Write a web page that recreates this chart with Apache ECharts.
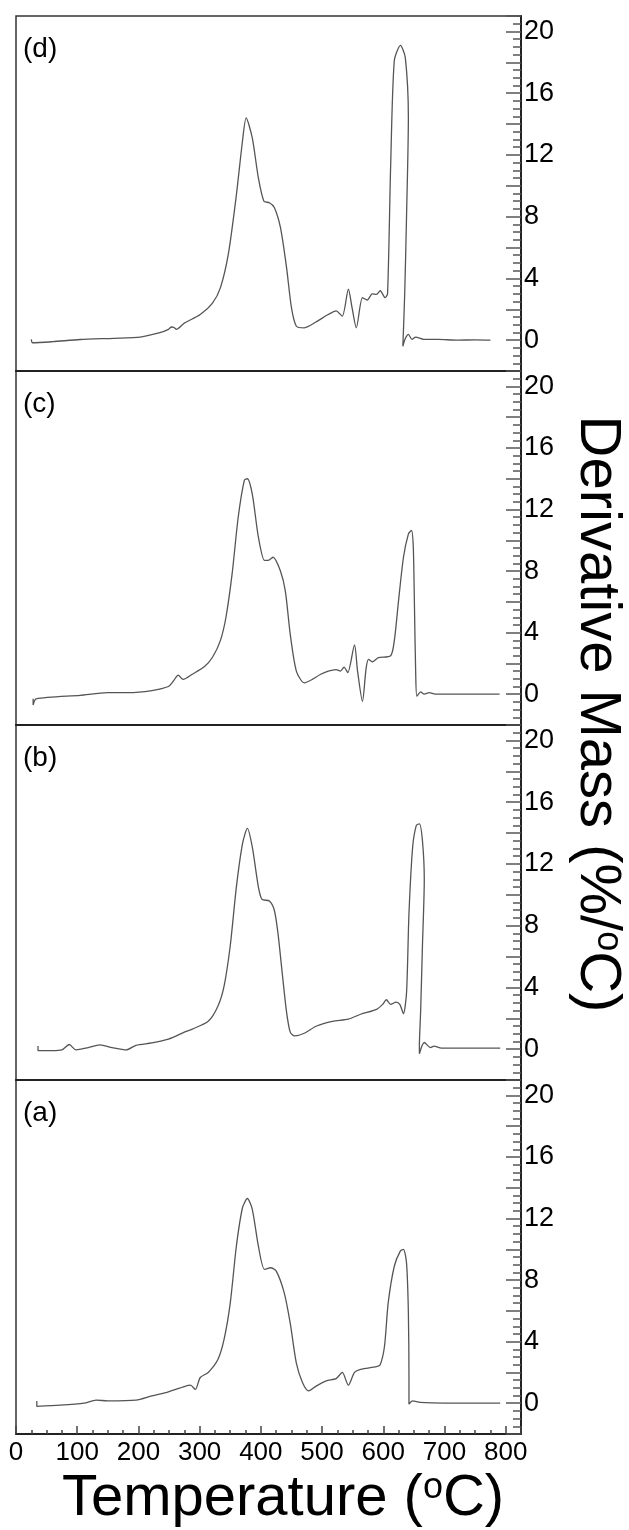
<!DOCTYPE html>
<html><head><meta charset="utf-8">
<script src="https://cdn.jsdelivr.net/npm/echarts@6/dist/echarts.min.js"></script>
<style>html,body{margin:0;padding:0;background:#fff}#c{width:629px;height:1530px}</style>
</head><body><div id="c"></div>
<script>
// Panel labels (top to bottom)
const panelLabels = ['(d)', '(c)', '(b)', '(a)'];
const xTitle = 'Temperature';
const yTitle = 'Derivative Mass';

// [temperature °C, derivative mass %/°C] — curve (d)
const curveD = [[25,0.05],[27,-0.17],[60,-0.1],[105,0.04],[160,0.12],[203,0.2],[235,0.48],[249,0.7],[254,0.85],[258,0.82],[262,0.7],[275,1.1],[301,1.66],[321,2.4],[334,3.4],[347,5.6],[360,9.4],[370,12.9],[376,14.4],[386,13.1],[396,10.5],[405,9.0],[414,8.9],[422,8.6],[432,7.3],[442,4.7],[450,2.1],[458,0.9],[471,0.8],[491,1.2],[510,1.66],[523,1.9],[533,1.55],[543,3.3],[549,2.1],[556,0.8],[566,2.75],[574,2.6],[582,3.0],[589,2.96],[595,3.2],[603,2.75],[607,3.0],[612,11.2],[618,18.1],[628,19.1],[636,18.3],[641,14.4],[638,8.0],[635,3.0],[632,-0.4],[636,0.1],[641,0.37],[647,0.05],[653,0.2],[666,0.05],[690,0.05],[720,0.0],[750,0.02],[775,0.0]];
// curve (c)
const curveC = [[28,-0.3],[28,-0.7],[33,-0.3],[105,-0.07],[150,0.1],[183,0.1],[222,0.24],[249,0.5],[257,0.85],[265,1.24],[273,0.96],[288,1.3],[308,1.8],[321,2.4],[334,3.5],[343,5.0],[353,7.8],[363,11.5],[373,13.9],[378,14.0],[386,13.0],[396,10.2],[406,8.7],[412,8.7],[420,8.9],[432,8.0],[440,6.7],[448,3.9],[458,1.5],[471,0.74],[484,0.96],[497,1.28],[510,1.5],[523,1.6],[530,1.5],[536,1.76],[542,1.4],[553,3.2],[558,1.5],[566,-0.46],[572,1.7],[576,2.27],[582,2.1],[592,2.37],[612,2.5],[618,3.46],[625,6.1],[633,8.9],[641,10.4],[646,10.65],[649,9.6],[651,5.6],[653,1.3],[655,-0.13],[661,0.15],[667,0.0],[675,0.1],[685,0.0],[720,0.0],[760,0.0],[790,0.0]];
// curve (b)
const curveB = [[36,0.2],[36,-0.1],[59,-0.1],[75,-0.05],[87,0.3],[98,-0.05],[118,0.1],[137,0.27],[157,0.1],[180,-0.05],[196,0.25],[222,0.4],[249,0.65],[275,1.1],[288,1.3],[314,1.8],[330,2.8],[340,4.1],[350,6.7],[360,10.5],[370,13.3],[378,14.3],[386,13.1],[396,10.5],[402,9.7],[414,9.6],[422,9.0],[428,7.5],[435,4.9],[442,2.4],[448,1.1],[455,0.86],[471,1.03],[491,1.5],[517,1.8],[543,1.94],[563,2.26],[589,2.58],[599,2.9],[605,3.2],[612,2.9],[621,3.05],[627,2.9],[633,2.3],[638,3.65],[642,8.8],[648,13.1],[654,14.5],[659,14.6],[664,13.5],[667,11.0],[664,6.7],[661,2.4],[659,0.2],[659,-0.3],[667,0.43],[677,0.1],[683,0.2],[695,0.06],[740,0.06],[791,0.06]];
// curve (a)
const curveA = [[34,0.15],[34,-0.2],[72,-0.13],[111,0.0],[131,0.2],[150,0.15],[196,0.2],[222,0.48],[249,0.74],[275,1.08],[285,1.17],[293,0.9],[301,1.67],[314,2.0],[330,2.86],[340,4.16],[350,6.5],[360,10.2],[370,12.7],[378,13.3],[386,12.6],[396,10.2],[406,8.7],[416,8.8],[425,8.6],[438,7.2],[448,5.2],[458,2.6],[468,1.34],[478,0.8],[491,1.13],[507,1.45],[523,1.6],[533,2.0],[543,1.17],[553,2.0],[563,2.2],[589,2.38],[595,2.5],[602,3.7],[608,6.5],[618,8.9],[628,9.9],[633,10.0],[638,9.1],[641,5.9],[642,1.56],[642,-0.06],[648,0.15],[660,0.05],[700,0.0],[750,0.0],[791,0.0]];

const curves = [curveD, curveC, curveB, curveA];
const xTicks = [0, 100, 200, 300, 400, 500, 600, 700, 800];
const yTickLabels = [0, 4, 8, 12, 16, 20];

const chart = echarts.init(document.getElementById('c'), null, {renderer: 'canvas'});
const FONT = 'Liberation Sans, Arial, sans-serif';
const tops = [16, 371, 725, 1080];
const heights = [355, 354, 355, 354];
const grids = [], xAxes = [], yAxes = [], series = [];
for (let i = 0; i < 4; i++) {
  grids.push({left: 16, right: 108, top: tops[i], height: heights[i], show: true, borderColor: '#333', borderWidth: 1.5, backgroundColor: 'transparent'});
  const bottom = i === 3;
  xAxes.push({
    type: 'value', gridIndex: i, min: 0, max: 825, interval: 100,
    axisLine: {show: true, onZero: false, lineStyle: {color: '#222', width: 2}},
    axisTick: {show: bottom, inside: true, length: 8, lineStyle: {color: '#444', width: 1.5}},
    minorTick: {show: bottom, splitNumber: 4, length: 4, lineStyle: {color: '#444', width: 1.5}},
    axisLabel: {show: bottom, showMaxLabel: false, color: '#000', fontSize: 26, fontFamily: FONT, margin: 6,
      formatter: v => xTicks.indexOf(v) >= 0 ? String(v) : ''},
    splitLine: {show: false}
  });
  yAxes.push({
    type: 'value', gridIndex: i, position: 'right', min: -2, max: 21, interval: 2,
    axisLine: {show: true, onZero: false, lineStyle: {color: '#222', width: 2}},
    axisTick: {show: true, inside: true, length: 15, lineStyle: {color: '#555', width: 1.5}},
    minorTick: {show: true, splitNumber: 4, length: 8, lineStyle: {color: '#555', width: 1.5}},
    axisLabel: {show: true, showMaxLabel: false, color: '#000', fontSize: 27, fontFamily: FONT, margin: 3,
      formatter: v => yTickLabels.indexOf(v) >= 0 ? String(v) : ''},
    splitLine: {show: false}
  });
  series.push({
    type: 'line', xAxisIndex: i, yAxisIndex: i, data: curves[i], showSymbol: false, smooth: 0.25,
    lineStyle: {color: '#555', width: 1.3}, silent: true
  });
}

const graphics = panelLabels.map((t, i) => ({
  type: 'text', left: 23, top: tops[i] + 19,
  style: {text: t, font: '28px ' + FONT, fill: '#000'}
}));
graphics.push({
  type: 'text', x: 283, y: 1499,
  style: {
    text: xTitle + ' ({s|o}C)', fill: '#000', font: '58px ' + FONT, align: 'center', verticalAlign: 'middle',
    rich: {s: {fontSize: 36, fontFamily: FONT, padding: [0, 0, 22, 0]}}
  }
});
graphics.push({
  type: 'text', x: 597, y: 714, rotation: -Math.PI / 2,
  style: {
    text: yTitle + ' (%/{s|o}C)', fill: '#000', font: '58px ' + FONT, align: 'center', verticalAlign: 'middle',
    rich: {s: {fontSize: 36, fontFamily: FONT, padding: [0, 0, 22, 0]}}
  }
});

chart.setOption({
  animation: false,
  grid: grids, xAxis: xAxes, yAxis: yAxes, series: series, graphic: graphics
});
</script></body></html>
